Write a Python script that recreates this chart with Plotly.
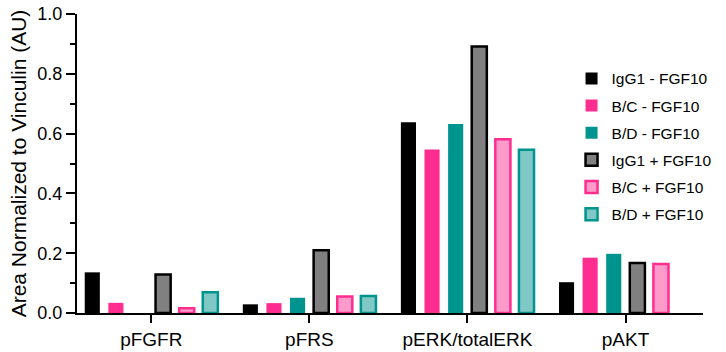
import plotly.graph_objects as go

categories = ["pFGFR", "pFRS", "pERK/totalERK", "pAKT"]
series_names = ["IgG1 - FGF10", "B/C - FGF10", "B/D - FGF10",
                "IgG1 + FGF10", "B/C + FGF10", "B/D + FGF10"]
igg1_minus = [0.136, 0.029, 0.638, 0.103]
bc_minus = [0.034, 0.033, 0.547, 0.185]
bd_minus = [None, 0.051, 0.632, 0.198]
igg1_plus = [0.129, 0.210, 0.891, 0.167]
bc_plus = [0.016, 0.055, 0.581, 0.164]
bd_plus = [0.069, 0.057, 0.546, None]

values = [igg1_minus, bc_minus, bd_minus, igg1_plus, bc_plus, bd_plus]
fills = ["#000000", "#FF2D8F", "#00948F", "#808080", "#FF9BCB", "#7FC8C6"]
edges = ["#000000", "#FF2D8F", "#00948F", "#000000", "#FF2D8F", "#00948F"]
edge_w = [0, 0, 0, 2.5, 2.5, 2.5]

fig = go.Figure()
for i, (name, v, f, e, w) in enumerate(zip(series_names, values, fills, edges, edge_w)):
    fig.add_trace(go.Bar(
        x=categories, y=v, name=name, legendgroup=f"g{i}",
        marker=dict(color=f, line=dict(color=e, width=w)),
    ))

font = "Arial, Liberation Sans, Helvetica, sans-serif"
fig.update_layout(
    width=726, height=352,
    margin=dict(l=77, r=23, t=14, b=39, autoexpand=False),
    barmode="group", bargap=0.104, bargroupgap=0.36,
    plot_bgcolor="white", paper_bgcolor="white",
    font=dict(family=font, size=18, color="black"),
    legend=dict(x=0.79, y=0.84, xanchor="left", yanchor="top",
                font=dict(size=15.5, family=font), tracegroupgap=4,
                itemwidth=30, bgcolor="rgba(0,0,0,0)"),
    xaxis=dict(range=[-0.47, 3.49], showline=True, linecolor="black",
               linewidth=2, ticks="outside", ticklen=8, tickwidth=2,
               tickcolor="black", showgrid=False, zeroline=False,
               automargin=False, tickfont=dict(size=19)),
    yaxis=dict(range=[0, 1.0], showline=True, linecolor="black",
               linewidth=2, ticks="outside", ticklen=9, tickwidth=2,
               tickcolor="black", dtick=0.2, tickformat=".1f",
               showgrid=False, zeroline=False, automargin=False,
               tickfont=dict(size=18),
               minor=dict(dtick=0.1, ticks="outside", ticklen=5,
                          tickwidth=2, tickcolor="black"),
               title=dict(text="Area Normalized to Vinculin (AU)",
                          font=dict(size=21), standoff=5)),
)

fig.write_html(
    "out.html",
    config={"displayModeBar": False},
    post_script="document.body.style.margin='0';document.body.style.overflow='hidden';",
)
